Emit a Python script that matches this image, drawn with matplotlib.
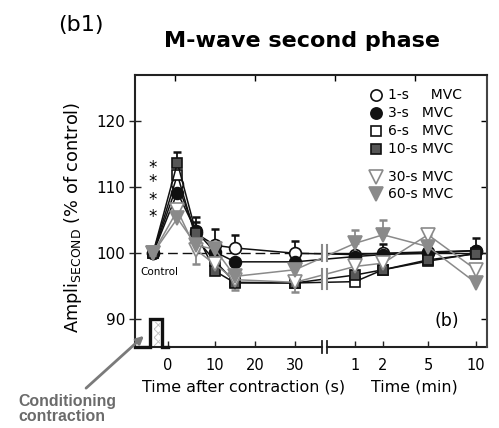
import numpy as np
import matplotlib
matplotlib.use('Agg')
import matplotlib.pyplot as plt
from matplotlib.lines import Line2D
from matplotlib.transforms import blended_transform_factory

plt.rcParams['font.family'] = ['DejaVu Sans']
plt.rcParams['hatch.linewidth'] = 0.7

# ---------------- data ----------------
times_s = [2, 6, 10, 15, 30]          # seconds after contraction
times_min = [1, 2, 5, 10]             # minutes after contraction
sec_ticks = [0, 10, 20, 30]
min_ticks = [1, 2, 5, 10]
y_ticks = [90, 100, 110, 120]
series_labels = ['1-s     MVC', '3-s   MVC', '6-s   MVC', '10-s MVC', '30-s MVC', '60-s MVC']

# values: control, 2s, 6s, 10s, 15s, 30s, 1min, 2min, 5min, 10min
mvc_1s = [100, 110.5, 103.0, 101.2, 100.8, 100.0, 99.8, 100.0, 100.2, 100.4]
mvc_3s = [100, 109.2, 103.3, 100.2, 98.7, 98.7, 99.5, 99.8, 100.0, 100.4]
mvc_6s = [100, 111.9, 102.2, 98.8, 95.6, 95.5, 95.7, 97.5, 98.8, 100.0]
mvc_10s = [100, 113.7, 103.0, 97.3, 95.5, 95.5, 96.7, 97.5, 99.0, 99.9]
mvc_30s = [100, 106.5, 100.5, 98.3, 96.0, 95.6, 98.0, 98.5, 102.8, 97.5]
mvc_60s = [100, 105.3, 101.2, 100.6, 96.5, 97.5, 101.5, 102.8, 101.0, 95.5]

err_up_1s = [0, 0, 1.8, 2.5, 2.0, 1.8, 0, 0, 0, 0]
err_up_3s = [0, 0, 2.2, 0, 0, 0, 0, 1.6, 0, 1.9]
err_up_6s = [0, 0, 0, 0, 0, 0, 0, 0, 0, 0]
err_up_10s = [0, 1.7, 0, 0, 0, 0, 0, 0, 0, 0]
err_up_30s = [0, 0, 0, 0, 0, 0, 0, 0, 0.6, 0]
err_up_60s = [0, 0, 0, 0, 0, 0, 2.0, 2.2, 0, 0]
err_dn_30s = [0, 0, 2.2, 0, 1.6, 1.5, 0, 0, 0, 0]

# ---------------- layout ----------------
W, H = 499, 428
fig = plt.figure(figsize=(W / 100, H / 100), dpi=100)
AX_L, AX_R, AX_T, AX_B = 135, 487, 75, 347
ax = fig.add_axes([AX_L / W, 1 - AX_B / H, (AX_R - AX_L) / W, (AX_B - AX_T) / H])
YLIM = (85.8, 127.0)
ax.set_xlim(AX_L, AX_R)
ax.set_ylim(*YLIM)


def px(x, y):
    return x / W, 1 - y / H


# piecewise-linear position scale for the broken time axis
def sec_pos(t):
    return np.interp(t, [-10, 0, 10, 20, 30], [121, 168, 215, 255, 295])


def min_pos(t):
    return np.interp(t, [1, 2, 5, 10], [355, 383, 428, 476])


CONTROL_POS = 153
BREAK_L, BREAK_R = 322, 327
xpos = np.concatenate([[CONTROL_POS], sec_pos(times_s), min_pos(times_min)])

BLACK = '#111111'
GRAY = '#8a8a8a'
DARK = '#555555'
styles = [
    dict(marker='o', mfc='white', mec=BLACK, color=BLACK, ms=8.5),
    dict(marker='o', mfc=BLACK, mec=BLACK, color=BLACK, ms=8.5),
    dict(marker='s', mfc='white', mec=BLACK, color=BLACK, ms=7.5),
    dict(marker='s', mfc=DARK, mec=BLACK, color=BLACK, ms=7.5),
    dict(marker='v', mfc='white', mec=GRAY, color=GRAY, ms=10),
    dict(marker='v', mfc=GRAY, mec=GRAY, color=GRAY, ms=10),
]
values = [mvc_1s, mvc_3s, mvc_6s, mvc_10s, mvc_30s, mvc_60s]
ups = [err_up_1s, err_up_3s, err_up_6s, err_up_10s, err_up_30s, err_up_60s]
dns = [[0] * 10] * 4 + [err_dn_30s, [0] * 10]

# reference line at control level
ax.plot([CONTROL_POS, BREAK_L], [100, 100], color=BLACK, lw=1.0,
        linestyle=(0, (7, 3.5)), zorder=1)
ax.plot([BREAK_R, AX_R], [100, 100], color=BLACK, lw=1.0, zorder=1)

order = [4, 5, 0, 1, 2, 3]
for i in order:
    st = styles[i]
    v = np.array(values[i], float)
    up = np.array(ups[i], float)
    dn = np.array(dns[i], float)
    mask = (up > 0) | (dn > 0)
    if mask.any():
        ax.errorbar(xpos[mask], v[mask], yerr=[dn[mask], up[mask]], fmt='none',
                    ecolor=st['color'], elinewidth=1.3, capsize=3, capthick=1.8,
                    zorder=2 + i * 0.1)
    ax.plot(xpos, v, color=st['color'], lw=1.1, marker=st['marker'],
            mfc=st['mfc'], mec=st['mec'], ms=st['ms'], mew=1.2,
            zorder=3 + i * 0.1)

# gap in the data lines at the axis break
ax.axvspan(BREAK_L + 0.5, BREAK_R - 0.5, ymin=0.1, ymax=0.9, color='white', zorder=5, lw=0)
for xb in (BREAK_L, BREAK_R):
    ax.plot([xb, xb], [98.8, 101.2], color=GRAY, lw=1.5, zorder=6)
    ax.plot([xb, xb], [94.6, 97.6], color=GRAY, lw=1.5, zorder=6)

# conditioning pulse
ylo = YLIM[0]
ax.fill_between([153.5, 159.5], ylo, 89.6, facecolor='white', hatch='xxxx',
                edgecolor='#c4c4c4', lw=0, zorder=2)
ax.plot([AX_L, 150, 150, 162, 162, 168], [ylo, ylo, 90, 90, ylo, ylo],
        color=BLACK, lw=2.4, solid_joinstyle='miter', clip_on=False, zorder=7)

# spines
for s in ('left', 'top', 'right'):
    ax.spines[s].set_linewidth(1.5)
    ax.spines[s].set_color('#222222')
ax.spines['right'].set_color('#444444')
ax.spines['bottom'].set_visible(False)
trans = blended_transform_factory(ax.transData, ax.transAxes)
ax.plot([AX_L, BREAK_L], [0, 0], color='#222222', lw=1.5, transform=trans, clip_on=False)
ax.plot([BREAK_R, AX_R], [0, 0], color='#222222', lw=1.5, transform=trans, clip_on=False)
for xb in (BREAK_L, BREAK_R):
    ax.plot([xb, xb], [-0.022, 0.022], color='#222222', lw=1.3, transform=trans, clip_on=False)

# ticks
tick_positions = list(sec_pos(sec_ticks)) + list(min_pos(min_ticks))
tick_labels = [str(t) for t in sec_ticks] + [str(t) for t in min_ticks]
ax.set_xticks(tick_positions)
ax.set_xticklabels(tick_labels, fontsize=10.5)
ax.tick_params(axis='x', direction='in', length=4, width=1, pad=8, colors='#222222',
               labelcolor='black')
ax.set_yticks(y_ticks)
ax.set_yticklabels([str(t) for t in y_ticks], fontsize=11)
ax.tick_params(axis='y', direction='inout', length=8, width=1, pad=3, colors='#222222',
               labelcolor='black')

sec_y = ax.secondary_yaxis('right')
sec_y.set_yticks(y_ticks)
sec_y.set_yticklabels([])
sec_y.tick_params(direction='in', length=4, width=1)
sec_y.spines['right'].set_visible(False)

sec_x = ax.secondary_xaxis('top')
sec_x.set_xticks([175, 255, 335, 415])
sec_x.set_xticklabels([])
sec_x.tick_params(direction='in', length=4, width=1)
sec_x.spines['top'].set_visible(False)

# texts
fig.text(*px(81, 25), '(b1)', fontsize=16, ha='center', va='center')
fig.text(*px(302, 41), 'M-wave second phase', fontsize=16, fontweight='bold',
         ha='center', va='center')
fig.text(*px(73, 217), r'Ampli$_{\mathregular{SECOND}}$ (% of control)', fontsize=12.8,
         rotation=90, ha='center', va='center')
fig.text(*px(244, 387), 'Time after contraction (s)', fontsize=11.4, ha='center', va='center')
fig.text(*px(414, 387), 'Time (min)', fontsize=11.4, ha='center', va='center')
fig.text(*px(159, 272), 'Control', fontsize=7.5, ha='center', va='center')
fig.text(*px(447, 321), '(b)', fontsize=12.5, ha='center', va='center')
# significance asterisks (two pairs)
fig.text(*px(153, 175), '*\n*', fontsize=12, ha='center', va='center', linespacing=0.68)
fig.text(*px(153, 208.5), '*\n*', fontsize=12, ha='center', va='center', linespacing=0.88)

fig.text(*px(18, 409), 'Conditioning\ncontraction', fontsize=11.4, fontweight='bold',
         color='#6b6b6b', ha='left', va='center', linespacing=0.95,
         family=['Liberation Sans', 'DejaVu Sans'])
fig.add_artist(matplotlib.patches.FancyArrowPatch(
    px(84, 390), px(146, 334), transform=fig.transFigure, arrowstyle='-|>',
    mutation_scale=11, color='#7a7a7a', lw=2))

# legend (manual, two groups)
leg_rows = [95, 113, 131, 149, 177, 194]
for i, (yy, lab) in enumerate(zip(leg_rows, series_labels)):
    st = styles[i]
    fig.add_artist(Line2D([px(376, yy)[0]], [px(376, yy)[1]], transform=fig.transFigure,
                          marker=st['marker'], mfc=st['mfc'], mec=st['mec'],
                          ms=st['ms'] * (0.95 if st['marker'] != 'v' else 1.0), mew=1.2, ls='none'))
    fig.text(*px(388, yy), lab, fontsize=10, ha='left', va='center')

fig.savefig('out.png', dpi=100)
